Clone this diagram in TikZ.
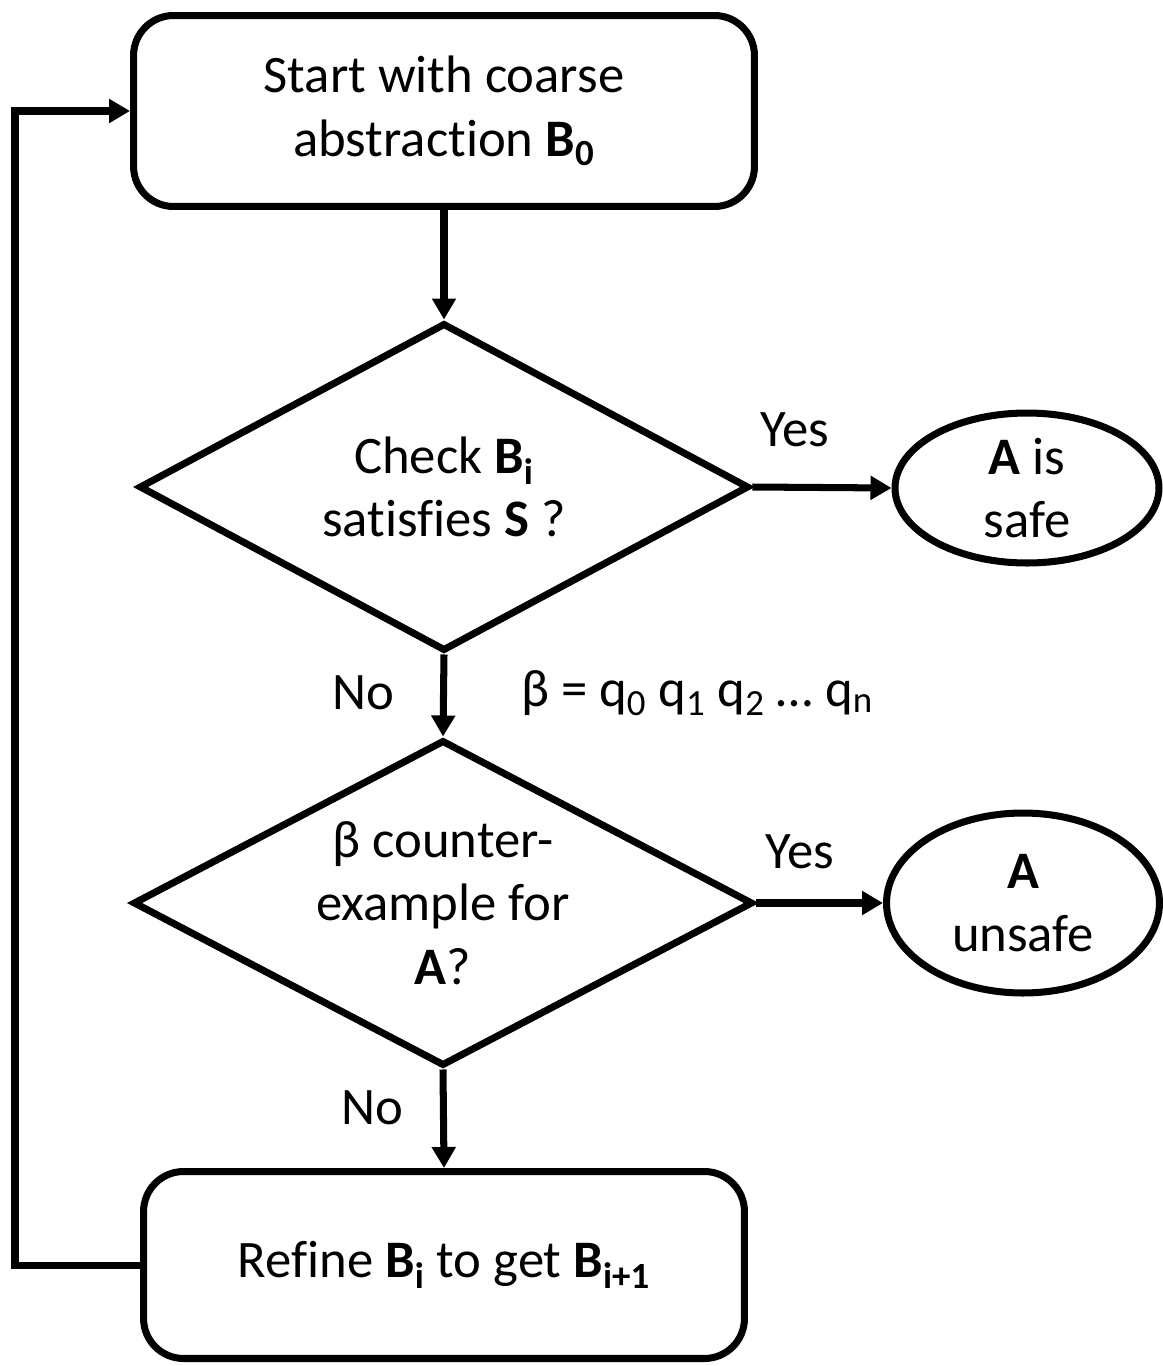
\documentclass[tikz,border=0pt]{standalone}
\usepackage{fontspec}
\setmainfont[Ligatures={NoCommon,NoContextual}]{Carlito}
\usetikzlibrary{arrows.meta,shapes.geometric}

\begin{document}
\begin{tikzpicture}[x=0.02cm,y=-0.02cm,
  every node/.style={font=\fontsize{30}{36}\selectfont},
  box/.style={draw,line width=4pt,rounded corners=0.8cm,align=center},
  test/.style={draw,diamond,aspect=1.9,line width=4pt,align=center,inner sep=0pt},
  result/.style={draw,ellipse,line width=4pt,align=center,inner sep=0pt},
  flow/.style={line width=4pt,-{Triangle[length=0.42cm,width=0.46cm]}}]
\useasboundingbox (0,0) rectangle (1163,1366);
\node[box,minimum width=12.42cm,minimum height=3.82cm] (start) at (444,111)
  {Start with coarse\\abstraction \textbf{B\textsubscript{0}}};
\node[test,minimum width=12.2cm,minimum height=6.56cm] (check) at (444,487)
  {Check \textbf{B\textsubscript{i}}\\satisfies \textbf{S} ?};
\node[result,minimum width=5.28cm,minimum height=3cm] (safe) at (1027,488)
  {\textbf{A} is\\safe};
\node[test,minimum width=12.4cm,minimum height=6.52cm] (cex) at (443,903)
  {β counter-\\example for\\\textbf{A}?};
\node[result,minimum width=5.46cm,minimum height=3.6cm] (unsafe) at (1023,903)
  {\textbf{A}\\unsafe};
\node[box,minimum width=12.02cm,minimum height=3.74cm] (refine) at (444,1265)
  {Refine \textbf{B\textsubscript{i}} to get \textbf{B\textsubscript{i+1}}};
% edge labels
\node (yes1) at (795,430) {Yes};
\node (yes2) at (800,852) {Yes};
\node (no1) at (363,693) {No};
\node (no2) at (372,1108) {No};
\node[anchor=west] (trace) at (515,693)
  {β = q\textsubscript{0} q\textsubscript{1} q\textsubscript{2} … q\textsubscript{n}};
% connectors
\coordinate (back) at (15,1265);
\draw[flow] (start.south) -- (check.north);
\draw[flow] (check.east) -- (safe.west);
\draw[flow] (check.south) -- (cex.north);
\draw[flow] (cex.east) -- (unsafe.west);
\draw[flow] (cex.south) -- (refine.north);
\draw[flow] (refine.west) -- (back) |- (start.west);
\end{tikzpicture}
\end{document}
